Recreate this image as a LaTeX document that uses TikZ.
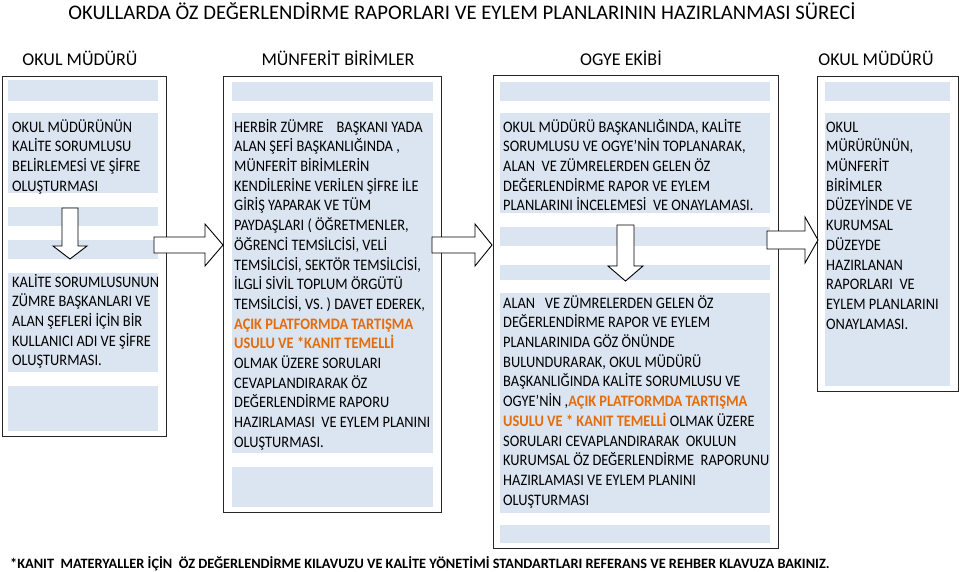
\documentclass[tikz,border=0pt]{standalone}
\usepackage{fontspec}
\setmainfont{Carlito}
\newfontfamily\sutun[FakeStretch=0.9]{Carlito}
\usepackage{tikz}
\usetikzlibrary{positioning}
\definecolor{bant}{HTML}{DBE5F1}
\definecolor{turuncu}{HTML}{E46C0A}
\definecolor{cerceve}{HTML}{262626}
\tikzset{cerc/.style={draw=cerceve, line width=1.2pt, fill=white, anchor=north west, inner sep=0pt}}
\tikzset{bnt/.style={fill=bant, anchor=north west, inner sep=0pt}}
\tikzset{yazi/.style={anchor=north west, inner sep=0pt, align=left, font=\sutun\fontsize{16}{19.7}\selectfont}}
\tikzset{baslik/.style={anchor=base, inner sep=0pt, font=\fontsize{18}{20}\selectfont}}
\tikzset{blok/.style={draw=black, line width=0.9pt, fill=white, line join=miter}}
\tikzset{pics/okr/.style n args={4}{code={%
  \draw[blok] (0,-#3) -- (#1-#2,-#3) -- (#1-#2,-#4) -- (#1,0) -- (#1-#2,#4) -- (#1-#2,#3) -- (0,#3) -- cycle;}}}
\newcommand{\vurgu}[1]{{\bfseries\color{turuncu}#1}}
\begin{document}
\begin{tikzpicture}[x=1pt, y=-1pt]
\useasboundingbox (0,0) rectangle (960,572);
\node[baslik, font=\fontsize{20.7}{22}\selectfont] (ana) at (462,20) {OKULLARDA ÖZ DEĞERLENDİRME RAPORLARI VE EYLEM PLANLARININ HAZIRLANMASI SÜRECİ};
\node[baslik] (h1) at (80,66) {OKUL MÜDÜRÜ};
\node[baslik] (h2) at (338,66) {MÜNFERİT BİRİMLER};
\node[baslik] (h3) at (621,66) {OGYE EKİBİ};
\node[baslik] (h4) at (876,66) {OKUL MÜDÜRÜ};
%
% okul muduru
\node[cerc, minimum width=164, minimum height=360] (mud) at (2,76) {};
\node[bnt, minimum width=150, minimum height=21] (mudA) at (8,80) {};
\node[bnt, minimum width=150, minimum height=80] (mudB) at (8,113) {};
\node[bnt, minimum width=150, minimum height=19] (mudC) at (8,207) {};
\node[bnt, minimum width=150, minimum height=19] (mudD) at (8,240) {};
\node[bnt, minimum width=150, minimum height=99] (mudE) at (8,273) {};
\node[bnt, minimum width=150, minimum height=45] (mudF) at (8,386) {};
\node[yazi] (mudT1) at (12,118.2) {\strut OKUL MÜDÜRÜNÜN\\KALİTE SORUMLUSU\\BELİRLEMESİ VE ŞİFRE\\OLUŞTURMASI};
\node[yazi] (mudT2) at (12,273.2) {\strut KALİTE SORUMLUSUNUN\\ZÜMRE BAŞKANLARI VE\\ALAN ŞEFLERİ İÇİN BİR\\KULLANICI ADI VE ŞİFRE\\OLUŞTURMASI.};
%
% munferit birimler
\node[cerc, minimum width=218, minimum height=436] (mun) at (223,76) {};
\node[bnt, minimum width=201, minimum height=19] (munA) at (232,82) {};
\node[bnt, minimum width=201, minimum height=340] (munB) at (232,113) {};
\node[bnt, minimum width=201, minimum height=40] (munC) at (232,467) {};
\node[yazi] (munT) at (234,118.2) {\strut HERBİR ZÜMRE\ \ \ \ BAŞKANI YADA\\ALAN ŞEFİ BAŞKANLIĞINDA ,\\MÜNFERİT BİRİMLERİN\\KENDİLERİNE VERİLEN ŞİFRE İLE\\GİRİŞ YAPARAK VE TÜM\\PAYDAŞLARI ( ÖĞRETMENLER,\\ÖĞRENCİ TEMSİLCİSİ, VELİ\\TEMSİLCİSİ, SEKTÖR TEMSİLCİSİ,\\İLGLİ SİVİL TOPLUM ÖRGÜTÜ\\TEMSİLCİSİ, VS. ) DAVET EDEREK,\\\vurgu{AÇIK PLATFORMDA TARTIŞMA}\\\vurgu{USULU VE *KANIT TEMELLİ}\\OLMAK ÜZERE SORULARI\\CEVAPLANDIRARAK ÖZ\\DEĞERLENDİRME RAPORU\\HAZIRLAMASI\ \ VE EYLEM PLANINI\\OLUŞTURMASI.};
%
% ogye ekibi
\node[cerc, minimum width=285, minimum height=473] (ogy) at (493,75) {};
\node[bnt, minimum width=270, minimum height=19] (ogyA) at (500,82) {};
\node[bnt, minimum width=270, minimum height=100] (ogyB) at (500,113) {};
\node[bnt, minimum width=270, minimum height=19] (ogyC) at (500,227) {};
\node[bnt, minimum width=270, minimum height=15] (ogyD) at (500,265) {};
\node[bnt, minimum width=270, minimum height=220] (ogyE) at (500,293) {};
\node[bnt, minimum width=270, minimum height=18] (ogyF) at (500,525) {};
\node[yazi] (ogyT1) at (503,118.2) {\strut OKUL MÜDÜRÜ BAŞKANLIĞINDA, KALİTE\\SORUMLUSU VE OGYE’NİN TOPLANARAK,\\ALAN\ \ VE ZÜMRELERDEN GELEN ÖZ\\DEĞERLENDİRME RAPOR VE EYLEM\\PLANLARINI İNCELEMESİ\ \ VE ONAYLAMASI.};
\node[yazi] (ogyT2) at (503,294.2) {\strut ALAN\ \ \ VE ZÜMRELERDEN GELEN ÖZ\\DEĞERLENDİRME RAPOR VE EYLEM\\PLANLARINIDA GÖZ ÖNÜNDE\\BULUNDURARAK, OKUL MÜDÜRÜ\\BAŞKANLIĞINDA KALİTE SORUMLUSU VE\\OGYE’NİN ,\vurgu{AÇIK PLATFORMDA TARTIŞMA}\\\vurgu{USULU VE * KANIT TEMELLİ} OLMAK ÜZERE\\SORULARI CEVAPLANDIRARAK\ \ OKULUN\\KURUMSAL ÖZ DEĞERLENDİRME\ \ RAPORUNU\\HAZIRLAMASI VE EYLEM PLANINI\\OLUŞTURMASI};
%
% okul muduru (onay)
\node[cerc, minimum width=141, minimum height=315] (onay) at (817,76) {};
\node[bnt, minimum width=125, minimum height=19] (onayA) at (825,82) {};
\node[bnt, minimum width=125, minimum height=273] (onayB) at (825,113) {};
\node[yazi] (onayT) at (826,118.2) {\strut OKUL\\MÜRÜRÜNÜN,\\MÜNFERİT\\BİRİMLER\\DÜZEYİNDE VE\\KURUMSAL\\DÜZEYDE\\HAZIRLANAN\\RAPORLARI\ \ VE\\EYLEM PLANLARINI\\ONAYLAMASI.};
%
% oklar
\coordinate (d1) at (70,208);
\coordinate (d2) at (625.5,225);
\coordinate (r1) at (154,245);
\coordinate (r2) at (432,245);
\coordinate (r3) at (767,240);
\pic[rotate=-90] at (d1) {okr={51}{13}{8}{17}};
\pic[rotate=-90] at (d2) {okr={56}{15}{8.5}{17.5}};
\pic at (r1) {okr={69}{18}{8}{21}};
\pic at (r2) {okr={60}{17}{8}{21}};
\pic at (r3) {okr={51}{13}{9}{23}};
%
\node[anchor=base west, inner sep=0pt, font=\fontsize{14.3}{15}\selectfont\bfseries] (kanit) at (10,568) {*KANIT\ \ MATERYALLER İÇİN\ \ ÖZ DEĞERLENDİRME KILAVUZU VE KALİTE YÖNETİMİ STANDARTLARI REFERANS VE REHBER KLAVUZA BAKINIZ.};
\end{tikzpicture}
\end{document}
